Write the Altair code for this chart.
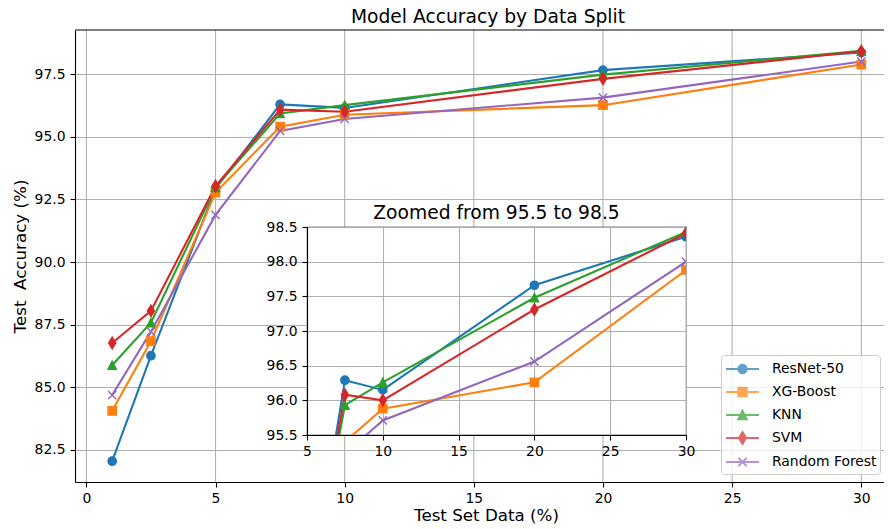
import altair as alt
import pandas as pd

# ---------------- data ----------------
x_vals = [1, 2.5, 5, 7.5, 10, 20, 30]
series_names = ["ResNet-50", "XG-Boost", "KNN", "SVM", "Random Forest"]
resnet = [82.05, 86.26, 92.93, 96.29, 96.15, 97.66, 98.36]
xgboost = [84.06, 86.84, 92.77, 95.40, 95.88, 96.26, 97.88]
knn = [85.88, 87.58, 92.98, 95.93, 96.26, 97.48, 98.43]
svm = [86.77, 88.05, 93.03, 96.08, 96.00, 97.31, 98.41]
rforest = [84.69, 87.22, 91.88, 95.23, 95.71, 96.56, 98.00]
colors = ["#1f77b4", "#ff7f0e", "#2ca02c", "#d62728", "#9467bd"]

main_x_ticks = [0, 5, 10, 15, 20, 25, 30]
main_y_ticks = [82.5, 85.0, 87.5, 90.0, 92.5, 95.0, 97.5]
inset_x_ticks = [5, 10, 15, 20, 25, 30]
inset_y_ticks = [95.5, 96.0, 96.5, 97.0, 97.5, 98.0, 98.5]

rows = []
for name, vals in zip(series_names, [resnet, xgboost, knn, svm, rforest]):
    for xv, v in zip(x_vals, vals):
        rows.append({"series": name, "x": xv, "acc": v})
df = pd.DataFrame(rows)

FONT = "DejaVu Sans"
FS = 13.9
TFS = 16.7
HFS = 18.7
GRID = "#b0b0b0"

# layout (pixels)
MAIN_W, MAIN_H = 816, 452
INSET_W, INSET_H = 379, 208
INSET_LEFT, INSET_TOP = 231.5, 197

# marker shapes (vega units: 1 unit = sqrt(size)/2 px)
marker_paths = [
    "circle",
    "square",
    "M0,-1L1,1L-1,1Z",
    "M0,-1.414L0.849,0L0,1.414L-0.849,0Z",
    "M-1,-1L1,1M-1,1L1,-1",
]
# legend symbols: line + marker, symbolSize 400 -> 1 unit = 10 px
L = 1.65
k = 0.4165
legend_paths = [
    f"M{-L},0L{L},0M{k},0A{k},{k} 0 1,1 {-k},0A{k},{k} 0 1,1 {k},0Z",
    f"M{-L},0L{L},0M{-k},{-k}L{k},{-k}L{k},{k}L{-k},{k}Z",
    f"M{-L},0L{L},0M0,{-k}L{k},{k}L{-k},{k}Z",
    f"M{-L},0L{L},0M0,{-1.414*k:.4f}L{0.849*k:.4f},0L0,{1.414*k:.4f}L{-0.849*k:.4f},0Z",
    f"M{-L},0L{L},0M{-k},{-k}L{k},{k}M{-k},{k}L{k},{-k}",
]


def cscale():
    return alt.Scale(domain=series_names, range=colors)


def axis_common(**kw):
    opts = dict(
        grid=True, gridColor=GRID, gridWidth=1.1, gridOpacity=1,
        tickColor="black", tickSize=5, tickWidth=1.1, tickCount=30,
        domainColor="black", domainWidth=1.1,
        labelFont=FONT, labelFontSize=FS, labelColor="black",
        titleFont=FONT, titleFontSize=TFS, titleColor="black", titleFontWeight="normal",
        labelFlush=False, labelOverlap=False,
    )
    opts.update(kw)
    return alt.Axis(**opts)


def series_layers(xscale, yscale, xaxis, yaxis, xtitle, ytitle, clip):
    base = alt.Chart(df).encode(
        x=alt.X("x:Q", scale=xscale, axis=xaxis, title=xtitle),
        y=alt.Y("acc:Q", scale=yscale, axis=yaxis, title=ytitle),
        color=alt.Color("series:N", scale=cscale(), legend=None),
    )
    line = base.mark_line(strokeWidth=2.1, clip=clip)
    pts = base.mark_point(filled=True, size=69, strokeWidth=1.4, opacity=1, clip=clip).encode(
        shape=alt.Shape("series:N", scale=alt.Scale(domain=series_names, range=marker_paths), legend=None),
        stroke=alt.Stroke("series:N", scale=cscale(), legend=None),
    )
    return line, pts


# ---------------- main plot ----------------
main_line, main_pts = series_layers(
    alt.Scale(domain=[-0.44, 31.15], nice=False, zero=False),
    alt.Scale(domain=[81.22, 99.26], nice=False, zero=False, range=[MAIN_H, 0]),
    axis_common(values=main_x_ticks, format="d", grid=False, offset=MAIN_H - INSET_TOP,
                labelPadding=4, titlePadding=3, titleX=411),
    axis_common(values=main_y_ticks, format=".1f", labelPadding=5, titlePadding=4.8),
    "Test Set Data (%)",
    "Test\u00a0 Accuracy (%)",
    False,
)

xgrid = alt.Chart(pd.DataFrame({"x": main_x_ticks})).mark_rule(
    color=GRID, strokeWidth=1.1
).encode(x=alt.X("x:Q"), y=alt.value(0), y2=alt.value(MAIN_H))

top_spine = alt.Chart(pd.DataFrame({"v": [0]})).mark_rule(
    color="black", strokeWidth=1.1
).encode(x=alt.value(0), x2=alt.value(MAIN_W + 2), y=alt.value(0))

legend_layer = alt.Chart(df).transform_filter("false").mark_point(filled=True, strokeWidth=2).encode(
    x=alt.X("x:Q"),
    y=alt.Y("acc:Q"),
    color=alt.Color(
        "series:N", scale=cscale(),
        legend=alt.Legend(
            orient="none", legendX=646, legendY=325, title=None,
            labelFont=FONT, labelFontSize=FS, labelColor="black",
            symbolSize=400, symbolStrokeWidth=2, symbolOffset=7.5,
            labelOffset=18.5, rowPadding=3.0, padding=3,
            fillColor="rgba(255,255,255,0.8)", strokeColor="#cccccc", cornerRadius=3,
        ),
    ),
    shape=alt.Shape("series:N", scale=alt.Scale(domain=series_names, range=legend_paths)),
    stroke=alt.Stroke("series:N", scale=cscale()),
)

main = alt.layer(xgrid, main_line, main_pts, top_spine, legend_layer).resolve_scale(
    color="independent", shape="independent", stroke="independent"
).properties(
    width=MAIN_W,
    height=INSET_TOP,
    title=alt.TitleParams("Model Accuracy by Data Split", font=FONT, fontSize=HFS,
                          fontWeight="normal", color="black", offset=2.3, dx=5, frame="group"),
    view=alt.ViewBackground(stroke="transparent", strokeWidth=0),
)

# ---------------- inset ----------------
in_line, in_pts = series_layers(
    alt.Scale(domain=[5, 30], nice=False, zero=False),
    alt.Scale(domain=[95.5, 98.5], nice=False, zero=False),
    axis_common(values=inset_x_ticks, format="d", title=None, labelPadding=4),
    axis_common(values=inset_y_ticks, format=".1f", title=None, labelPadding=5),
    None,
    None,
    True,
)
inset = alt.layer(in_line, in_pts).properties(
    width=INSET_W,
    height=INSET_H,
    title=alt.TitleParams("Zoomed from 95.5 to 98.5", font=FONT, fontSize=HFS,
                          fontWeight="normal", color="black", offset=3.4, dy=6, frame="group"),
    view=alt.ViewBackground(fill="white", stroke="black", strokeWidth=1.1),
)

spacer = alt.Chart(pd.DataFrame({"v": [0]})).mark_point(opacity=0).encode(
    x=alt.X("v:Q", axis=None), y=alt.Y("v:Q", axis=None)
).properties(width=INSET_LEFT, height=INSET_H,
             view=alt.ViewBackground(stroke="transparent", strokeWidth=0))

bottom = alt.hconcat(spacer, inset, spacing=0, bounds="flush")

chart = alt.vconcat(main, bottom, spacing=0, bounds="flush").resolve_scale(
    color="independent", shape="independent", stroke="independent"
).properties(
    padding={"left": 4, "top": 0, "right": -10, "bottom": 0},
    background="white",
)

chart.save("out.html", embed_options={"renderer": "svg", "actions": False})
